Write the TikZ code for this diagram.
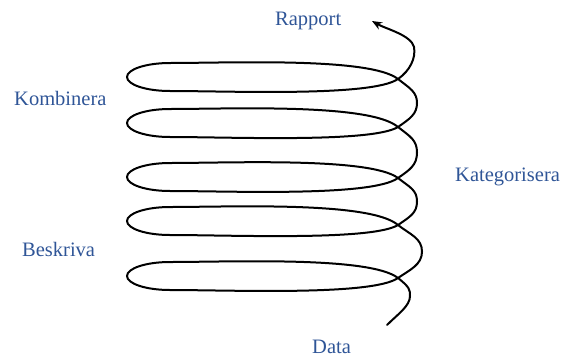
\documentclass[tikz,border=0pt]{standalone}
\usepackage{fontspec}
\setmainfont{Liberation Serif}
\usetikzlibrary{arrows.meta}
\definecolor{lblblue}{RGB}{47,85,151}
\tikzset{
  lbl/.style={text=lblblue, inner sep=0pt, anchor=base west, font=\fontsize{20.5}{24}\selectfont},
  coil/.style={line width=2pt, black, line cap=round, line join=round},
}
\begin{document}
\begin{tikzpicture}[x=1pt,y=-1pt]
\useasboundingbox (0,0) rectangle (561,356);
\coordinate (start) at (387,325);
\coordinate (tip) at (372,21);
\draw[coil, -{Stealth[length=10pt,width=8pt]}] (start)
 .. controls (398,314) and (410,306) .. (410,296)
 .. controls (410,290) and (410,287.4) .. (398,278)
 % loop 5
 .. controls (370,256) and (230,262) .. (170,262)
 .. controls (146,262) and (127,268.3) .. (127,276)
 .. controls (127,283.7) and (146,290) .. (170,290)
 .. controls (230,290) and (372,296) .. (398,278)
 .. controls (410,269.7) and (422,264.75) .. (422,251.5)
 .. controls (422,238.25) and (410,234.4) .. (398,225)
 % loop 4
 .. controls (370,201) and (230,207) .. (170,207)
 .. controls (146,207) and (127,213.3) .. (127,221)
 .. controls (127,228.7) and (146,235) .. (170,235)
 .. controls (230,235) and (372,241) .. (398,225)
 .. controls (410,216.7) and (417,213) .. (417,201.5)
 .. controls (417,190) and (410,187.4) .. (398,178)
 % loop 3
 .. controls (370,157) and (230,163) .. (170,163)
 .. controls (146,163) and (127,169.3) .. (127,177)
 .. controls (127,184.7) and (146,191) .. (170,191)
 .. controls (230,191) and (372,197) .. (398,178)
 .. controls (410,169.7) and (417,165) .. (417,152.5)
 .. controls (417,140) and (410,136.4) .. (398,127)
 % loop 2
 .. controls (370,103) and (230,109) .. (170,109)
 .. controls (146,109) and (127,115.3) .. (127,123)
 .. controls (127,130.7) and (146,137) .. (170,137)
 .. controls (230,137) and (372,143) .. (398,127)
 .. controls (410,118.7) and (417,114) .. (417,103)
 .. controls (417,92) and (410,88.4) .. (398,79)
 % loop 1
 .. controls (370,57) and (230,63) .. (170,63)
 .. controls (146,63) and (127,69.3) .. (127,77)
 .. controls (127,84.7) and (146,91) .. (170,91)
 .. controls (230,91) and (372,97) .. (398,79)
 % to report
 .. controls (410,70.7) and (416,58) .. (414,47)
 .. controls (411,35) and (386,29) .. (tip);
\node[lbl] (rapport) at (275,25) {Rapport};
\node[lbl] (kombinera) at (14,105) {Kombinera};
\node[lbl] (kategorisera) at (455,181) {Kategorisera};
\node[lbl] (beskriva) at (22,256) {Beskriva};
\node[lbl] (data) at (312,353) {Data};
\end{tikzpicture}
\end{document}
